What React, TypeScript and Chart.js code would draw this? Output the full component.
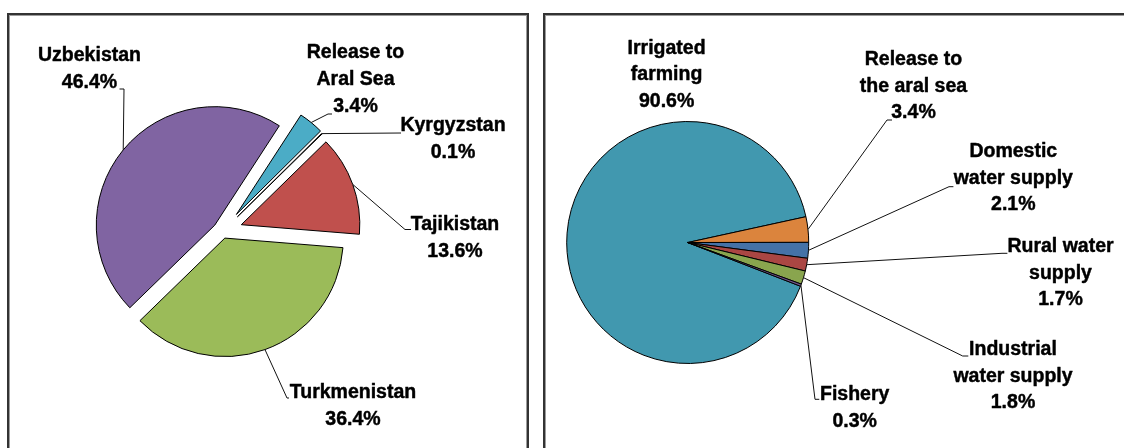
import React, { useEffect, useRef } from 'react';
import { Chart, registerables } from 'chart.js';

Chart.register(...registerables);

// ---------- data ----------
const countryNames: string[][] = [['Uzbekistan'], ['Release to', 'Aral Sea'], ['Kyrgyzstan'], ['Tajikistan'], ['Turkmenistan']];
const countryShares: number[] = [46.4, 3.4, 0.1, 13.6, 36.4];

const useNames: string[][] = [
  ['Irrigated', 'farming'],
  ['Release to', 'the aral sea'],
  ['Domestic', 'water supply'],
  ['Rural water', 'supply'],
  ['Industrial', 'water supply'],
  ['Fishery'],
];
const useShares: number[] = [90.6, 3.4, 2.1, 1.7, 1.8, 0.3];

// ---------- style / layout ----------
const W = 1124;
const H = 448;
const FONT = 'bold 19.5px "Liberation Sans", Arial, Helvetica, sans-serif';

type LabelSpec = { cx: number; y: number; path?: number[][] };
type PieCfg = {
  names: string[][];
  values: number[];
  colors: string[];
  center: [number, number];
  radius: number;
  rotation: number;
  explode: number[];
  lineH: number;
  labels: LabelSpec[];
};

const leftPie: PieCfg = {
  names: countryNames,
  values: countryShares,
  colors: ['#8064A2', '#4BACC6', '#FFFFFF', '#C0504D', '#9BBB59'],
  center: [222.5, 231.5],
  radius: 118.5,
  rotation: 225.8,
  explode: [10, 22, 21, 20, 7],
  lineH: 27,
  labels: [
    { cx: 89.5, y: 61, path: [[124, 89], [119.5, 89]] },
    { cx: 355.5, y: 58.3, path: [[328, 114], [332, 114]] },
    { cx: 453, y: 131, path: [[401, 133]] },
    { cx: 455, y: 230, path: [[405, 229.5], [411, 229.5]] },
    { cx: 353, y: 398.3, path: [[287, 398], [289, 398]] },
  ],
};

const rightPie: PieCfg = {
  names: useNames,
  values: useShares,
  colors: ['#4198AF', '#DB843D', '#4572A7', '#AA4643', '#89A54E', '#71588F'],
  center: [687.7, 242.5],
  radius: 121,
  rotation: 111.2,
  explode: [0, 0, 0, 0, 0, 0],
  lineH: 26.7,
  labels: [
    { cx: 666.6, y: 53.5 },
    { cx: 913.5, y: 65, path: [[887, 120], [892, 120]] },
    { cx: 1013.3, y: 157, path: [[949, 186.7], [953.4, 186.7]] },
    { cx: 1060.5, y: 252, path: [[1002, 253.3], [1007.4, 253.3]] },
    { cx: 1013, y: 355, path: [[962.7, 356], [968.3, 356]] },
    { cx: 854.7, y: 400, path: [[815, 399.3], [819.3, 399.3]] },
  ],
};

function makePlugins(cfg: PieCfg) {
  const explode = {
    id: 'explodeSlices',
    afterDatasetUpdate(chart: any, args: any) {
      const meta = args.meta || chart.getDatasetMeta(args.index);
      meta.data.forEach((arc: any, i: number) => {
        const d = cfg.explode[i] || 0;
        const mid = (arc.startAngle + arc.endAngle) / 2;
        arc.x += Math.cos(mid) * d;
        arc.y += Math.sin(mid) * d;
      });
    },
  };
  const labels = {
    id: 'sliceLabels',
    afterDraw(chart: any) {
      const ctx = chart.ctx;
      const meta = chart.getDatasetMeta(0);
      const values = chart.data.datasets[0].data as number[];
      ctx.save();
      meta.data.forEach((arc: any, i: number) => {
        const spec = cfg.labels[i];
        if (!spec) return;
        const mid = (arc.startAngle + arc.endAngle) / 2;
        if (spec.path) {
          ctx.beginPath();
          ctx.moveTo(arc.x + Math.cos(mid) * arc.outerRadius, arc.y + Math.sin(mid) * arc.outerRadius);
          spec.path.forEach(([px, py]) => ctx.lineTo(px, py));
          ctx.strokeStyle = '#111';
          ctx.lineWidth = 1;
          ctx.stroke();
        }
        const lines = [...cfg.names[i], `${values[i].toFixed(1)}%`];
        ctx.font = FONT;
        ctx.fillStyle = '#000';
        ctx.strokeStyle = '#000';
        ctx.lineWidth = 0.45;
        ctx.lineJoin = 'round';
        ctx.textAlign = 'center';
        ctx.textBaseline = 'alphabetic';
        lines.forEach((t, k) => {
          ctx.fillText(t, spec.cx, spec.y + k * cfg.lineH);
          ctx.strokeText(t, spec.cx, spec.y + k * cfg.lineH);
        });
      });
      ctx.restore();
    },
  };
  return [explode, labels];
}

function PieCanvas({ cfg }: { cfg: PieCfg }) {
  const ref = useRef<HTMLCanvasElement | null>(null);
  useEffect(() => {
    if (!ref.current) return;
    const [cx, cy] = cfg.center;
    const half = 150;
    const chart = new Chart(ref.current, {
      type: 'pie',
      data: {
        labels: cfg.names.map((n) => n.join(' ')),
        datasets: [
          {
            data: cfg.values,
            backgroundColor: cfg.colors,
            borderColor: '#000',
            borderWidth: 1,
            borderJoinStyle: 'miter',
          } as any,
        ],
      },
      options: {
        responsive: false,
        animation: false,
        devicePixelRatio: 1,
        events: [],
        rotation: cfg.rotation,
        radius: cfg.radius,
        layout: {
          padding: { left: cx - half, top: cy - half, right: W - cx - half, bottom: H - cy - half },
        },
        plugins: { legend: { display: false }, tooltip: { enabled: false } },
      } as any,
      plugins: makePlugins(cfg) as any,
    });
    return () => chart.destroy();
  }, [cfg]);
  return (
    <canvas
      ref={ref}
      width={W}
      height={H}
      style={{ position: 'absolute', left: 0, top: 0, width: W, height: H }}
    />
  );
}

const panelStyle: React.CSSProperties = {
  position: 'absolute',
  boxSizing: 'border-box',
  border: '2px solid #333',
  boxShadow: 'inset 0 0 0 1px #9c9c9c',
  background: '#fff',
};

export default function App() {
  return (
    <div
      style={{
        position: 'absolute',
        left: 0,
        top: 0,
        width: W,
        height: H,
        overflow: 'hidden',
        background: '#fff',
      }}
    >
      <div style={{ ...panelStyle, left: 7, top: 13, width: 522, height: 470 }} />
      <div style={{ ...panelStyle, left: 543, top: 13, width: 620, height: 470 }} />
      <PieCanvas cfg={leftPie} />
      <PieCanvas cfg={rightPie} />
    </div>
  );
}
